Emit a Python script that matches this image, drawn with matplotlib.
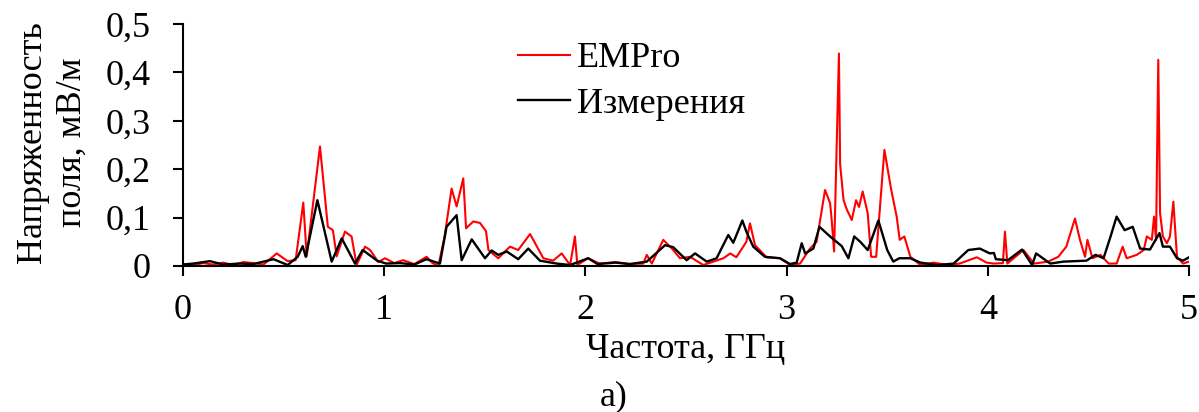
import matplotlib
matplotlib.use("Agg")
import matplotlib.pyplot as plt

plt.rcParams["font.family"] = ["Liberation Serif", "DejaVu Serif"]

# Frequency, GHz / field strength, mV/m
empro_f = [0.0, 0.05, 0.1, 0.15, 0.2, 0.25, 0.3, 0.35, 0.4, 0.466, 0.52, 0.56, 0.598, 0.615, 0.681,
           0.72, 0.745, 0.764, 0.805, 0.838, 0.863, 0.905, 0.93, 0.971, 1.004, 1.05, 1.094, 1.15,
           1.211, 1.24, 1.269, 1.3, 1.335, 1.36, 1.393, 1.407, 1.443, 1.476, 1.506, 1.518, 1.567,
           1.625, 1.666, 1.725, 1.791, 1.84, 1.882, 1.924, 1.948, 1.96, 2.013, 2.07, 2.15, 2.22,
           2.288, 2.305, 2.33, 2.387, 2.43, 2.47, 2.52, 2.586, 2.636, 2.686, 2.72, 2.75, 2.8,
           2.818, 2.843, 2.9, 2.967, 3.017, 3.067, 3.116, 3.149, 3.191, 3.216, 3.224, 3.236,
           3.249, 3.26, 3.266, 3.283, 3.3, 3.324, 3.345, 3.36, 3.378, 3.403, 3.42, 3.445, 3.486,
           3.52, 3.547, 3.562, 3.585, 3.615, 3.665, 3.73, 3.8, 3.86, 3.945, 3.994, 4.03, 4.075,
           4.085, 4.097, 4.177, 4.23, 4.3, 4.35, 4.39, 4.433, 4.458, 4.483, 4.495, 4.52, 4.56,
           4.6, 4.64, 4.67, 4.69, 4.74, 4.775, 4.79, 4.815, 4.826, 4.836, 4.847, 4.856, 4.87,
           4.89, 4.905, 4.922, 4.94, 4.97, 5.0]
empro_e = [0.004, 0.002, 0.006, 0.003, 0.007, 0.002, 0.008, 0.006, 0.003, 0.026, 0.01, 0.012, 0.131,
           0.02, 0.247, 0.081, 0.074, 0.02, 0.071, 0.061, 0.002, 0.04, 0.033, 0.008, 0.016, 0.006,
           0.012, 0.004, 0.019, 0.006, 0.0, 0.06, 0.16, 0.123, 0.181, 0.078, 0.092, 0.089, 0.072,
           0.033, 0.016, 0.04, 0.033, 0.066, 0.016, 0.011, 0.026, 0.002, 0.061, 0.002, 0.016, 0.005,
           0.008, 0.004, 0.005, 0.023, 0.005, 0.054, 0.036, 0.016, 0.019, 0.002, 0.009, 0.016, 0.026,
           0.018, 0.05, 0.088, 0.043, 0.018, 0.016, 0.002, 0.005, 0.036, 0.05, 0.157, 0.13, 0.095,
           0.03, 0.253, 0.439, 0.21, 0.136, 0.116, 0.095, 0.136, 0.122, 0.154, 0.109, 0.019, 0.019,
           0.24, 0.157, 0.102, 0.054, 0.061, 0.019, 0.002, 0.007, 0.002, 0.005, 0.018, 0.007, 0.005,
           0.006, 0.071, 0.005, 0.033, 0.005, 0.009, 0.019, 0.04, 0.098, 0.054, 0.019, 0.054, 0.016,
           0.023, 0.005, 0.005, 0.04, 0.016, 0.023, 0.033, 0.061, 0.054, 0.102, 0.054, 0.426, 0.109,
           0.061, 0.047, 0.061, 0.133, 0.019, 0.005, 0.009]

meas_f = [0.0, 0.05, 0.134, 0.2, 0.28, 0.35, 0.45, 0.52, 0.57, 0.595, 0.61, 0.668, 0.739, 0.789,
          0.855, 0.893, 0.965, 1.01, 1.08, 1.15, 1.21, 1.277, 1.31, 1.36, 1.385, 1.435, 1.501,
          1.534, 1.567, 1.609, 1.666, 1.716, 1.774, 1.857, 1.924, 2.014, 2.06, 2.15, 2.22, 2.305,
          2.396, 2.436, 2.503, 2.545, 2.603, 2.652, 2.71, 2.735, 2.78, 2.8, 2.834, 2.892, 2.967,
          3.017, 3.05, 3.075, 3.092, 3.133, 3.163, 3.216, 3.274, 3.307, 3.336, 3.366, 3.403,
          3.456, 3.5, 3.53, 3.56, 3.615, 3.665, 3.75, 3.83, 3.903, 3.96, 4.01, 4.03, 4.04, 4.1,
          4.17, 4.22, 4.24, 4.31, 4.375, 4.49, 4.535, 4.575, 4.61, 4.64, 4.68, 4.72, 4.757,
          4.806, 4.853, 4.87, 4.905, 4.94, 4.97, 5.0]
meas_e = [0.003, 0.005, 0.01, 0.003, 0.005, 0.004, 0.014, 0.002, 0.019, 0.041, 0.019, 0.136,
          0.009, 0.057, 0.005, 0.033, 0.011, 0.005, 0.006, 0.003, 0.014, 0.005, 0.081, 0.105,
          0.012, 0.055, 0.016, 0.032, 0.023, 0.03, 0.014, 0.036, 0.011, 0.005, 0.002, 0.016,
          0.004, 0.007, 0.004, 0.009, 0.043, 0.039, 0.012, 0.026, 0.009, 0.016, 0.064, 0.048,
          0.094, 0.071, 0.04, 0.019, 0.016, 0.004, 0.007, 0.047, 0.026, 0.036, 0.081, 0.061,
          0.041, 0.016, 0.061, 0.05, 0.033, 0.094, 0.033, 0.009, 0.016, 0.016, 0.007, 0.002,
          0.005, 0.033, 0.036, 0.026, 0.027, 0.014, 0.012, 0.034, 0.002, 0.026, 0.005, 0.009,
          0.011, 0.023, 0.016, 0.061, 0.102, 0.074, 0.081, 0.036, 0.034, 0.068, 0.04, 0.04,
          0.016, 0.011, 0.018]

x_ticks = [0, 1, 2, 3, 4, 5]
y_ticks = [0, 0.1, 0.2, 0.3, 0.4, 0.5]
y_tick_labels = ["0", "0,1", "0,2", "0,3", "0,4", "0,5"]

FS = 26

fig = plt.figure(figsize=(11.99, 4.12), dpi=100)
ax = fig.add_axes([0.1526, 0.3544, 0.8391, 0.5873])

ax.plot(empro_f, empro_e, color="#ff0000", lw=1.5, label="EMPro")
ax.plot(meas_f, meas_e, color="black", lw=1.7, label="Измерения")

ax.set_xlim(0, 5)
ax.set_ylim(0, 0.5)
ax.set_xticks(x_ticks)
ax.set_xticklabels([str(t) for t in x_ticks])
ax.set_yticks(y_ticks)
ax.set_yticklabels(y_tick_labels)
ax.tick_params(direction="out", length=7, width=1.5, labelsize=FS, color="black")
ax.tick_params(axis="x", pad=13)
ax.tick_params(axis="y", pad=16)
for side in ("top", "right"):
    ax.spines[side].set_visible(False)
for side in ("left", "bottom"):
    ax.spines[side].set_linewidth(1.5)

ax.set_xlabel("Частота, ГГц", fontsize=FS, va="center")
ax.xaxis.set_label_coords(0.5, -0.347)
ax.set_ylabel("Напряженность\nполя, мВ/м", fontsize=FS, va="center", ha="center",
              linespacing=1.25)
ax.yaxis.set_label_coords(-0.13, 0.512)

ax.legend(loc="upper left", bbox_to_anchor=(0.333, 0.925), frameon=False, fontsize=FS,
          handlelength=1.44, handletextpad=0.2, labelspacing=0.34, borderpad=0,
          borderaxespad=0)

fig.text(0.512, 0.036, "а)", fontsize=FS, ha="center", va="center")

fig.savefig("out.png", dpi=100)
